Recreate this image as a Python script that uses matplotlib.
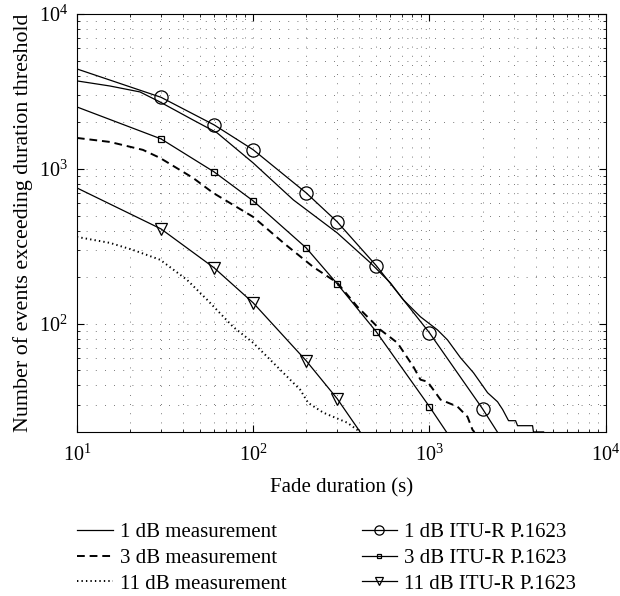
import matplotlib
matplotlib.use('Agg')
import matplotlib.pyplot as plt

# fonts - serif, close to the journal look
plt.rcParams['font.family'] = ['Liberation Serif', 'DejaVu Serif']
plt.rcParams['mathtext.fontset'] = 'stix'
plt.rcParams['font.size'] = 15

# ITU-R P.1623 model curves (markers at the sampled durations)
itu1_x = [10, 30, 60, 100, 200, 300, 500, 1000, 2000, 2430]
itu1_y = [4420, 2900, 1925, 1330, 700, 455, 237, 87.5, 28.3, 20]
itu3_x = [10, 30, 60, 100, 200, 300, 500, 1000, 1250]
itu3_y = [2512, 1563, 957, 622, 309, 181, 88.7, 29.2, 20]
itu11_x = [10, 30, 60, 100, 200, 300, 405]
itu11_y = [754, 410, 230, 136.6, 57.7, 32.8, 20]

# measured curves
meas1_x = [10, 15.4, 22.8, 29.7, 45.6, 62.4, 100, 169, 300, 462, 600, 711, 889,
           1110, 1265, 1500, 1778, 2137, 2433, 2600, 2810, 3080, 3160, 3845,
           3890, 4440]
meas1_y = [3700, 3430, 3140, 2700, 2070, 1710, 1093, 631, 386, 248, 184, 143, 111,
           91.4, 78.8, 60.4, 48.3, 35.9, 31.4, 28, 23.7, 23.7, 22, 22,
           20.05, 20.05]
meas3_x = [10, 15.4, 23.7, 29.6, 45.6, 59.3, 100, 150, 219, 300, 390, 527, 658,
           811, 889, 975, 1156, 1443, 1644, 1755, 1800]
meas3_y = [1585, 1493, 1327, 1178, 875, 700, 490, 330, 233, 184, 129, 91.5, 75.4,
           52.8, 43.6, 42.3, 32.4, 29.2, 25.1, 20.7, 20]
meas11_x = [10, 15.4, 20.8, 29.7, 42.2, 54.8, 76.9, 100, 137, 185, 205, 250, 342, 405]
meas11_y = [364, 333, 300, 259, 192, 143, 95.7, 75.4, 52.8, 37.5, 30.9, 26.7, 23, 20]

fig = plt.figure(figsize=(6.2, 5.96), dpi=100)
ax = fig.add_axes([0.124, 0.275, 0.853, 0.7015])

lw = 0.9
ax.plot(meas1_x, meas1_y, '-', color='k', lw=lw, label='1 dB measurement')
ax.plot(meas3_x, meas3_y, '--', color='k', lw=1.4, dashes=(4, 2.5), label='3 dB measurement')
ax.plot(meas11_x, meas11_y, ':', color='k', lw=1.4, dashes=(0.7, 1.6), label='11 dB measurement')
ax.plot(itu1_x, itu1_y, '-', color='k', lw=lw, marker='o', ms=9.5, mfc='none', mew=0.9,
        markevery=list(range(1, 9)), label='1 dB ITU-R P.1623')
ax.plot(itu3_x, itu3_y, '-', color='k', lw=lw, marker='s', ms=5, mfc='none', mew=0.9,
        markevery=list(range(1, 8)), label='3 dB ITU-R P.1623')
ax.plot(itu11_x, itu11_y, '-', color='k', lw=lw, marker='v', ms=9, mfc='none', mew=0.9,
        markevery=list(range(1, 6)), label='11 dB ITU-R P.1623')

ax.set_xscale('log')
ax.set_yscale('log')
ax.set_xlim(10, 1e4)
ax.set_ylim(20, 1e4)

ax.grid(True, which='both', color='0.3', linewidth=0.6, linestyle=(0, (1, 10)))
ax.tick_params(which='both', direction='in', top=True, right=True, labelsize=14.5)
ax.tick_params(which='major', length=5)
ax.tick_params(which='minor', length=2.5)
ax.tick_params(axis='x', which='major', pad=9)
ax.tick_params(axis='y', which='major', pad=6.5)
for s in ax.spines.values():
    s.set_linewidth(0.8)

ax.set_xlabel('Fade duration (s)', fontsize=15, labelpad=9)
ax.set_ylabel('Number of events exceeding duration threshold', fontsize=15.8, labelpad=4)

fig.legend(loc='center', bbox_to_anchor=(0.527, 0.0635), ncol=2, frameon=False,
           fontsize=15, handlelength=1.7, columnspacing=3.6, labelspacing=0.3,
           handletextpad=0.35, markerscale=0.7, borderpad=0.2)

fig.savefig('out.png', dpi=100)
